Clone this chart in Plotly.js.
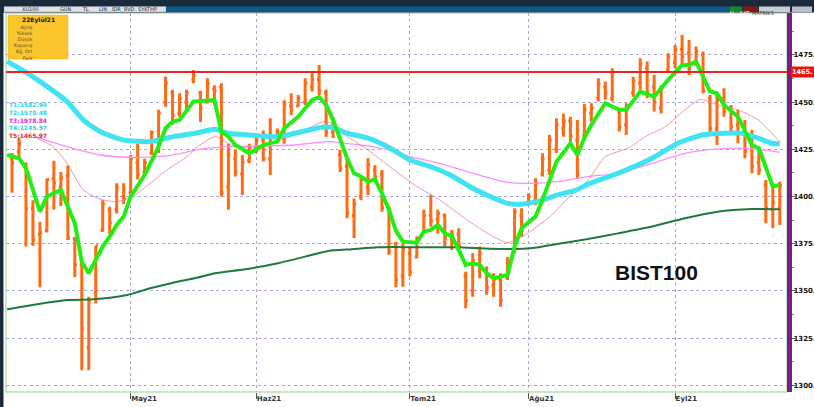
<!DOCTYPE html>
<html><head><meta charset="utf-8">
<script src="https://cdn.plot.ly/plotly-3.0.1.min.js"></script>
<style>html,body{margin:0;padding:0;background:#fff;}#chart{width:814px;height:407px;}</style>
</head><body><div id="chart"></div>
<script>
// ---------- data ----------
const monthLabels = ['May21','Haz21','Tem21','Ağu21','Eyl21'];
const monthStart = [17,35,57,74,95];
const yTickVals = [1300,1325,1350,1375,1400,1425,1450,1475];
const infoTitle = '22Eylül21';
const infoRows = ['Açılış','Yüksek','Düşük','Kapanış','Ağ. Ort','Fark'];
const trendNames = ['T1','T2','T3','T4','T5'];
const trendValues = [1582.94,1570.48,1978.84,1245.57,1465.97];
const chartName = 'BIST100';

const openV = [1420,1424,1416,1393.5,1380,1382,1409.5,1405,1411,1377.7,
 1364,1320,1349,1382,1393,1393,1400,1402,1418,1413,
 1423,1425,1450,1455,1444,1450,1462,1455,1450,1457,
 1458,1405,1420,1412,1419,1426,1430,1420,1432,1431,
 1448,1448,1450,1458,1462,1455,1434,1422,1416,1390,
 1400,1405,1414,1412,1393,1375,1358,1370,1368,1381,
 1390,1388,1390,1378,1380,1358,1350,1364,1360,1353,
 1356,1357,1372,1390,1396,1398,1412,1414,1425,1436,
 1440,1430,1432,1444,1452,1458,1452,1445,1438,1455,
 1460,1468,1458,1447,1467,1471,1478,1476,1470,1475,
 1452,1436,1452,1446,1438,1435,1425,1418,1406,1393,1394];
const highV = [1423,1431,1418,1398,1386.5,1409.5,1419,1413,1416.5,1378.6,
 1364.4,1347,1374,1398,1394.6,1407,1407,1422,1428,1420,
 1435,1446,1463.5,1456.5,1454.7,1456.5,1467,1456,1462.6,1459,
 1460,1428,1424.7,1422,1428,1433.5,1435,1441.5,1436,1451,
 1454.7,1453.8,1462.6,1465.3,1469.7,1456.5,1442.3,1424.7,1419.4,1399,
 1411.4,1420.3,1416.7,1414,1395,1376,1375,1373.5,1378.8,1393,
 1400.8,1393,1391,1382.3,1383.2,1360.2,1370,1373.5,1363,1359.4,
 1359.4,1368,1393.8,1393.8,1401.7,1409.7,1422.9,1432.6,1441.5,1444,
 1442.3,1440.6,1449,1449.4,1462.6,1460.9,1467.9,1446.8,1449.4,1463.5,
 1473.2,1471.5,1464.4,1459,1475.9,1480.3,1485.6,1482.9,1479.4,1476.8,
 1453.8,1454.7,1457.3,1448.5,1445.9,1440.6,1435.3,1426.4,1408.8,1405.3,1407.9];
const lowV = [1402,1420,1373.5,1374,1352,1381,1393,1395,1377,1357.4,
 1308,1308,1343.3,1381.4,1380,1391,1396,1400,1409,1410.6,
 1422,1423,1447.6,1438,1442.3,1446,1460,1439.5,1449.4,1448.5,
 1400,1393,1410.6,1400.8,1417.6,1423,1418.5,1411.4,1430,1428,
 1443,1447.6,1448.5,1455.6,1453.8,1431.7,1431,1413,1388.5,1378,
 1398,1400.8,1408.8,1392,1369,1352,1352.3,1357.6,1367.3,1380.5,
 1384,1380.5,1373.5,1371.7,1371.7,1340.8,1347,1356.7,1348,1347,
 1341.7,1355.8,1370,1378.8,1395.4,1395.4,1410.6,1411.4,1423,1431.7,
 1429,1409.7,1430,1439.7,1450.3,1451.2,1450.3,1434.4,1432.6,1452.9,
 1456.5,1452,1445,1444,1466.2,1467.9,1469.7,1464.4,1469.7,1454.7,
 1432.6,1427.3,1442.3,1434.4,1428.2,1420.3,1412.3,1411.4,1385.9,1383.2,1385];
const closeV = [1418,1428,1393.5,1377,1381,1409,1407,1410,1378,1364,
 1330,1344.4,1374,1396,1386,1405,1399,1420,1412,1418,
 1434,1444,1460,1443,1452,1455,1464,1447,1460,1456,
 1402,1422,1413,1418,1426,1430,1420,1432,1434,1449,
 1446,1452,1460,1462,1456,1434,1440,1415,1391,1396,
 1409,1417,1410,1394,1371,1356,1372,1360,1377,1390,
 1387,1391,1378,1380,1374,1345,1366,1370,1352,1356,
 1345,1366,1392,1382,1400,1407,1420,1430,1438,1440,
 1432,1412,1446,1447,1460,1455,1466,1437,1446,1461,
 1470,1455,1450,1457,1474,1478,1474,1468,1477,1456,
 1436,1451,1445,1437,1440,1424,1416,1414,1394,1397,1406];

// short moving average (bright green)
const maShortIdx = [-0.7,1,2,4,5,7,9,10,11,12,13,14,15,16,17,19,20,21,22,23,24,25,26,29,30,31,32,34,36,38,39,41,43,44,45,46,47,48,49,50,51,52,53,54,55,56,58,59,60,61,62,63,64,65,66,67,68,69,71,72,73,75,76,77,78,80,81,82,83,85,87,88,90,92,94,96,97,98,100,101,102,104,106,107,109,110];
const maShortVal = [1422,1420.3,1415,1392,1400,1403.5,1385.8,1365.5,1359.4,1366.4,1373.5,1378.8,1385,1389.4,1400,1411.4,1419.4,1426.4,1436.2,1439.7,1440.6,1445.9,1450.3,1451.2,1434.4,1431.7,1427.3,1422.9,1427.3,1429.1,1436.2,1442.3,1451.2,1452.6,1448.5,1440.6,1430,1420.3,1412.3,1410.6,1407.9,1409.1,1401.7,1393,1382,1376.1,1375.6,1381.4,1382.3,1385,1380.5,1379.1,1371.7,1363.8,1364.7,1363.8,1359.4,1356.7,1358.5,1373.5,1383.2,1389.4,1398.2,1407.9,1418.5,1428.2,1422,1431,1438,1449.4,1445.9,1445.9,1455.6,1452.9,1461.8,1469.7,1469.7,1471.5,1455.6,1454.7,1448.5,1442.3,1427.3,1425.6,1405.3,1406.2];
// cyan average
const maCyanIdx = [-0.7,2.2,5.4,7.9,10.2,12.6,15.9,19.8,23.1,26.2,29.1,31,33.8,38.1,40.5,44.4,45.8,47.7,51,54.2,57,59.9,62.8,66,68.5,70.9,73.2,75.2,78.1,80.9,82.8,86.8,91.7,95.4,98.9,102.1,104.6,106.9,108.9,110];
const maCyanVal = [1471.5,1465.3,1457.3,1450.3,1440.6,1434.4,1430,1429.1,1431.7,1433.5,1435.6,1433.5,1432.6,1431.7,1433.5,1436.7,1436.7,1433.9,1430.9,1425.6,1419.4,1415.9,1411.4,1404.4,1400,1396.4,1396.1,1397.3,1400.8,1403.5,1407,1412.3,1420.3,1428.2,1432.6,1433.5,1433.5,1430.9,1428.2,1427.9];
// pink average
const maPinkIdx = [3.3,7.9,12.6,17.3,22.2,26.9,30.9,35.8,40.5,45.3,47.7,51,54.4,57,61.3,66,70.9,74.2,78.1,82.5,86.8,91.7,96.4,100.3,104.6,107.4,110];
const maPinkVal = [1431.7,1426.4,1422,1420.8,1421.5,1425,1426.4,1426.8,1427.3,1429.1,1428.2,1426.8,1424.2,1421.2,1417.6,1412.3,1407.6,1407,1407.9,1410.6,1412.3,1417.6,1422.9,1425,1425.6,1424.7,1423.4];
// salmon average
const maSalmonIdx = [3.6,5.9,7.9,10.2,12.6,15,17.3,19.8,22.2,25.1,26.6,29.1,31.9,35.8,38.7,42,44.6,45.8,48.1,51,54.4,58,61.3,65.2,68.5,70.9,72.3,74.2,77.1,79.9,82.5,85,88.3,90.7,93.6,96.4,98.6,101.1,104,106.9,110];
const maSalmonVal = [1430.9,1426.4,1417.6,1403.5,1398.6,1397.3,1400,1407,1414.1,1421.2,1426.5,1431.7,1426.4,1426.4,1430,1435.3,1439.7,1438.8,1431.7,1424.7,1415,1405.3,1398.2,1387.6,1379.7,1375.6,1377,1381.4,1389.4,1400,1408.5,1421.2,1425.6,1431.7,1437,1445.9,1451.5,1448.5,1445.9,1440.6,1429.1];
// long average (dark green)
const maLongIdx = [-0.7,3,7.9,11.6,16.5,19.8,23.1,26.5,29.1,33.4,38.1,42,45.3,48.7,52.4,54.4,58.9,63.8,68.5,73.2,75.2,78.1,82.5,86.8,91.7,96.4,101.1,106,110];
const maLongVal = [1340.3,1342.6,1345.2,1345.6,1347.9,1351.4,1354.4,1357,1359.4,1361.5,1364.7,1368.2,1371.2,1372.1,1373.1,1373.3,1373.1,1373.1,1372.4,1372.4,1373,1374.9,1377.5,1380.5,1384.1,1388.5,1392,1393.4,1393.3];

// ---------- helpers (pixel -> paper) ----------
const PL = 6, PR = 787, PT = 13, PB = 392;
const px = v => (v - PL) / (PR - PL);
const py = v => (PB - v) / (PB - PT);
const barIdx = openV.map((_, i) => i);

const ORANGE = '#ff6a12';
const traces = [
  {type:'scatter', mode:'lines', x:maLongIdx, y:maLongVal, line:{color:'#1f7a3e', width:2, shape:'spline', smoothing:0.6}, hoverinfo:'skip'},
  {type:'scatter', mode:'lines', x:maPinkIdx, y:maPinkVal, line:{color:'#ff8cff', width:1.3, shape:'spline', smoothing:0.6}, hoverinfo:'skip'},
  {type:'scatter', mode:'lines', x:maSalmonIdx, y:maSalmonVal, line:{color:'rgba(240,120,120,0.75)', width:1, shape:'spline', smoothing:0.5}, hoverinfo:'skip'},
  {type:'scatter', mode:'lines', x:maCyanIdx, y:maCyanVal, line:{color:'#3fe3f2', width:5, shape:'spline', smoothing:0.6}, hoverinfo:'skip'},
  {type:'ohlc', x:barIdx, open:openV, high:highV, low:lowV, close:closeV, tickwidth:0.3,
   increasing:{line:{color:ORANGE, width:3}}, decreasing:{line:{color:ORANGE, width:3}}, hoverinfo:'skip'},
  {type:'scatter', mode:'lines', x:maShortIdx, y:maShortVal, line:{color:'#22ee11', width:4}, hoverinfo:'skip'}
];

const shapes = [
  {type:'rect', xref:'paper', yref:'paper', x0:0, x1:1, y0:0, y1:1, line:{color:'#b3e3aa', width:1.5}, layer:'below'},
  {type:'line', xref:'paper', yref:'y', x0:0, x1:1, y0:trendValues[4], y1:trendValues[4], line:{color:'#ee2222', width:2}},
  // top toolbar
  {type:'rect', xref:'paper', yref:'paper', x0:px(0), x1:px(814), y0:py(0), y1:py(12.5), fillcolor:'#1b2a3a', line:{width:0}},
  {type:'rect', xref:'paper', yref:'paper', x0:px(4), x1:px(166), y0:py(6.5), y1:py(12), fillcolor:'#dfe3e8', line:{color:'#8a95a0', width:0.5}},
  {type:'rect', xref:'paper', yref:'paper', x0:px(166), x1:px(730), y0:py(6.5), y1:py(12), fillcolor:'#0c5a8a', line:{width:0}},
  {type:'rect', xref:'paper', yref:'paper', x0:px(730), x1:px(742), y0:py(6.5), y1:py(12), fillcolor:'#118a2a', line:{width:0}},
  {type:'rect', xref:'paper', yref:'paper', x0:px(743), x1:px(758), y0:py(6.5), y1:py(12), fillcolor:'#8c1414', line:{width:0}},
  {type:'rect', xref:'paper', yref:'paper', x0:px(759), x1:px(790), y0:py(6.5), y1:py(12), fillcolor:'#c9ced4', line:{width:0}},
  {type:'rect', xref:'paper', yref:'paper', x0:px(792), x1:px(812), y0:py(6.5), y1:py(12), fillcolor:'#b9bfc6', line:{width:0}},
  // left dark strip
  {type:'rect', xref:'paper', yref:'paper', x0:px(0), x1:px(3.5), y0:py(407), y1:py(0), fillcolor:'#1b2a3a', line:{width:0}},
  // info box
  {type:'rect', xref:'paper', yref:'paper', x0:px(8), x1:px(68), y0:py(59), y1:py(15), fillcolor:'#fbc52c', line:{color:'#e3ad20', width:0.5}}
];

const annotations = [];
const tb = [['XU100',30],['GÜN',66],['TL',85],['LİN',103],['İDR',116],['RVD',129],['SYKTHP',147]];
tb.forEach(t => annotations.push({xref:'paper', yref:'paper', x:px(t[1]), y:py(9.3), text:t[0], showarrow:false, borderpad:0,
  font:{family:'DejaVu Sans', size:5, color:'#1a2533'}, xanchor:'center', yanchor:'middle'}));
annotations.push({xref:'paper', yref:'paper', x:px(736), y:py(9.3), text:'AL', showarrow:false, borderpad:0, font:{family:'DejaVu Sans', size:5, color:'#ffffff'}});
annotations.push({xref:'paper', yref:'paper', x:px(750.5), y:py(9.3), text:'SAT', showarrow:false, borderpad:0, font:{family:'DejaVu Sans', size:5, color:'#ffffff'}});
annotations.push({xref:'paper', yref:'paper', x:px(774.5), y:py(9.3), text:'MATRİKS', showarrow:false, borderpad:0, font:{family:'DejaVu Sans', size:5, color:'#2a3550'}});

annotations.push({xref:'paper', yref:'paper', x:px(38), y:py(15.3), text:'<b>'+infoTitle+'</b>', showarrow:false, borderpad:0,
  font:{family:'DejaVu Sans', size:6, color:'#111'}, xanchor:'center', yanchor:'top'});
annotations.push({xref:'paper', yref:'paper', x:px(34), y:py(23.6), text:infoRows.join('<br>'), showarrow:false, borderpad:0,
  align:'right', font:{family:'DejaVu Sans', size:4.7, color:'#5a4a30'}, xanchor:'right', yanchor:'top'});

const trendColors = ['#22d8ea','#22d8ea','#e51ee5','#22d0e0','#ee2020'];
annotations.push({xref:'paper', yref:'paper', x:px(8), y:py(100), showarrow:false, borderpad:0, align:'left',
  text:trendNames.map((n,i) => '<span style="color:'+trendColors[i]+'"><b>'+n+':'+trendValues[i].toFixed(2)+'</b></span>').join('<br>'),
  font:{family:'DejaVu Sans', size:6, color:'#22d8ea'}, xanchor:'left', yanchor:'top'});

annotations.push({xref:'paper', yref:'y', x:1, y:trendValues[4], xshift:3, text:'<b>'+Math.floor(trendValues[4])+'.</b>',
  showarrow:false, bgcolor:'#ee1111', font:{family:'DejaVu Sans', size:6.5, color:'#ffffff'}, xanchor:'left', yanchor:'middle', borderpad:1});

annotations.push({xref:'paper', yref:'paper', x:px(656), y:py(272), text:'<b>'+chartName+'</b>', showarrow:false,
  font:{family:'Liberation Sans', size:21, color:'#111'}, xanchor:'center', yanchor:'middle'});

const layout = {
  width:814, height:407,
  margin:{l:PL, r:814-PR, t:PT, b:407-PB, pad:0},
  paper_bgcolor:'#ffffff', plot_bgcolor:'#ffffff',
  showlegend:false,
  xaxis:{range:[(PL-12)/6.98, (PR-12)/6.98], rangeslider:{visible:false}, tickmode:'array',
    tickvals:monthStart, ticktext:monthLabels, ticklabelposition:'outside right',
    showgrid:true, gridcolor:'#a6a6dc', griddash:'dot', gridwidth:1,
    ticks:'outside', ticklen:6, tickcolor:'#555', zeroline:false, showline:false,
    tickfont:{family:'DejaVu Sans', size:7, color:'#333', weight:'bold'}, fixedrange:true},
  yaxis:{side:'right', range:[1296.5,1497.2], tickmode:'array', tickvals:yTickVals,
    ticktext:yTickVals.map(v => v + '.'), showgrid:true, gridcolor:'#a6a6dc', griddash:'dot', gridwidth:1,
    showline:true, linecolor:'#7d1a8c', linewidth:5, ticks:'outside', ticklen:3, tickcolor:'#666',
    ticklabelstandoff:-3,
    minor:{dtick:12.5, ticks:'outside', ticklen:2, tickcolor:'#888', showgrid:false},
    zeroline:false, tickfont:{family:'DejaVu Sans', size:7, color:'#111', weight:'bold'}, fixedrange:true},
  shapes:shapes, annotations:annotations
};
Plotly.newPlot('chart', traces, layout, {staticPlot:true, displayModeBar:false});
</script></body></html>
